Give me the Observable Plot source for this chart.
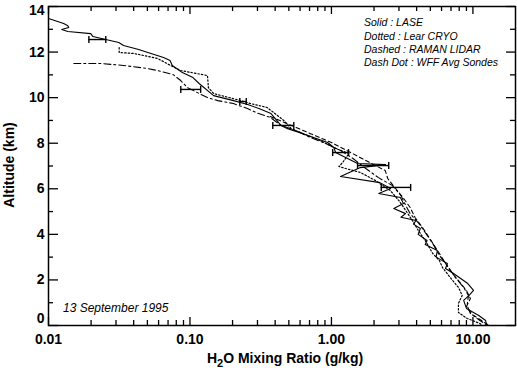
<!DOCTYPE html>
<html><head><meta charset="utf-8">
<script src="https://cdn.jsdelivr.net/npm/d3@7"></script>
<script src="https://cdn.jsdelivr.net/npm/@observablehq/plot@0.6"></script>
<style>body{margin:0;background:#fff}</style>
</head><body><div id="chart"></div>
<script>
// [H2O mixing ratio g/kg, altitude km]
const lase = [[0.0100,13.47],[0.0128,13.25],[0.0137,13.16],[0.0139,13.08],[0.0124,12.99],[0.0137,12.90],[0.0199,12.81],[0.0206,12.68],[0.0254,12.55],[0.0314,12.42],[0.0339,12.29],[0.0434,12.11],[0.0530,11.94],[0.0651,11.76],[0.0723,11.63],[0.0750,11.41],[0.0883,11.10],[0.105,10.88],[0.116,10.62],[0.147,10.09],[0.203,9.87],[0.256,9.70],[0.307,9.52],[0.374,9.30],[0.440,8.78],[0.49,8.64],[0.63,8.42],[0.94,8.03],[1.04,7.81],[1.07,7.59],[1.26,7.37],[1.53,7.11],[2.41,7.06],[1.60,6.93],[1.16,6.54],[2.20,6.27],[2.62,6.01],[2.16,5.79],[3.07,5.62],[3.23,5.35],[2.76,5.13],[3.34,4.91],[3.10,4.75],[3.96,4.61],[3.80,4.45],[4.25,4.26],[4.10,4.0],[4.74,3.73],[4.6,3.55],[5.6,3.29],[5.5,3.0],[6.6,2.72],[6.4,2.5],[7.3,2.28],[9.2,1.84],[10.1,1.54],[9.4,1.32],[8.6,1.10],[9.0,0.75],[11.0,0.44],[12.3,0.22],[12.5,0]];
const cryo = [[0.0316,12.2],[0.0316,11.98],[0.040,11.94],[0.059,11.72],[0.073,11.41],[0.086,11.19],[0.133,10.97],[0.135,10.44],[0.147,10.18],[0.228,9.87],[0.268,9.74],[0.35,9.57],[0.39,9.35],[0.46,9.0],[0.52,8.64],[0.63,8.42],[0.83,8.12],[1.07,7.77],[1.33,7.55],[1.20,7.15],[1.13,6.98],[1.26,6.89],[1.61,6.71],[2.05,6.36],[2.61,5.92],[3.0,5.48],[3.35,5.05],[3.73,4.61],[4.11,4.17],[4.6,3.73],[5.2,3.16],[5.8,2.85],[6.1,2.54],[6.9,2.11],[7.9,1.67],[8.4,1.32],[7.9,0.97],[7.9,0.57],[9.1,0.31],[11.2,0.09],[11.7,0]];
const raman = [[0.37,9.17],[0.52,8.78],[0.71,8.42],[1.0,8.03],[1.37,7.59],[1.75,7.24],[2.4,6.80],[2.5,6.45],[2.8,6.06],[3.2,5.62],[3.6,5.18],[3.9,4.74],[4.4,4.30],[4.9,3.86],[5.5,3.38],[6.1,2.94],[6.9,2.41],[7.9,1.97],[9.0,1.54],[9.6,1.18],[9.0,0.83],[9.9,0.48],[11.5,0.22],[13.0,0]];
const wff = [[0.0151,11.5],[0.0234,11.5],[0.034,11.41],[0.050,11.28],[0.059,11.19],[0.076,11.01],[0.086,10.75],[0.096,10.44],[0.113,10.22],[0.133,10.0],[0.157,9.87],[0.203,9.74],[0.255,9.52],[0.306,9.30],[0.37,9.13],[0.44,8.78],[0.56,8.56],[0.71,8.25],[0.91,7.99],[1.16,7.68],[1.42,7.33],[1.75,6.89],[2.15,6.49],[2.70,6.14],[3.1,5.70],[3.35,5.27],[3.6,4.91],[4.1,4.52],[4.6,4.08],[5.2,3.60],[5.8,3.07],[6.6,2.63],[7.5,2.11],[8.6,1.67],[9.3,1.32],[9.1,0.88],[9.6,0.53],[11.2,0.22],[12.7,0]];
// LASE error bars
const errAlt = [12.55, 10.36, 9.83, 8.78, 7.59, 7.02, 6.06];
const errLo  = [0.0193, 0.0861, 0.225, 0.385, 1.02, 1.53, 2.25];
const errHi  = [0.0254, 0.119, 0.250, 0.542, 1.32, 2.54, 3.63];
const xMajor = [0.01, 0.1, 1, 10];
const xMinor = [0.02,0.03,0.04,0.05,0.06,0.07,0.08,0.09,0.2,0.3,0.4,0.5,0.6,0.7,0.8,0.9,2,3,4,5,6,7,8,9];
const yMajor = [0,2,4,6,8,10,12,14];
const yMinor = [1,3,5,7,9,11,13];
const legendLines = ["Solid : LASE","Dotted : Lear CRYO","Dashed : RAMAN LIDAR","Dash Dot : WFF Avg Sondes"];
const dateLabel = "13 September 1995";

const errs = errAlt.map((a,i)=>({alt:a, lo:errLo[i], hi:errHi[i]}));
const caps = errs.flatMap(e=>[{x:e.lo,y:e.alt},{x:e.hi,y:e.alt}]);
const vbar = {draw(ctx, size){ const r = Math.sqrt(size/Math.PI); ctx.moveTo(0,-r); ctx.lineTo(0,r); }};
const X = d=>d[0], Y = d=>d[1];
const FW = 467, FH = 319;

const chart = Plot.plot({
  width: 517, height: 368,
  marginLeft: 48, marginRight: 2, marginTop: 6, marginBottom: 43,
  style: {fontFamily: "Liberation Sans, Arial, sans-serif", background: "white", color: "black"},
  x: {type: "log", domain: [0.01, 20]},
  y: {domain: [0, 14]},
  marks: [
    Plot.line(wff, {x: X, y: Y, stroke: "black", strokeWidth: 1.1, strokeDasharray: "7,3,2,3", clip: true}),
    Plot.line(raman, {x: X, y: Y, stroke: "black", strokeWidth: 1.1, strokeDasharray: "4,3", clip: true}),
    Plot.line(cryo, {x: X, y: Y, stroke: "black", strokeWidth: 1.2, strokeDasharray: "1.5,2", clip: true}),
    Plot.line(lase, {x: X, y: Y, stroke: "black", strokeWidth: 1.1, clip: true}),
    Plot.ruleY(errs, {y: "alt", x1: "lo", x2: "hi", stroke: "black", strokeWidth: 1.4}),
    Plot.dot(caps, {x: "x", y: "y", symbol: vbar, r: 3.5, stroke: "black", strokeWidth: 1.4}),
    Plot.tickX(xMajor, {x: d=>d, insetTop: FH-8, stroke: "black", strokeWidth: 1.3}),
    Plot.tickX(xMinor, {x: d=>d, insetTop: FH-5, stroke: "black", strokeWidth: 1.3}),
    Plot.tickX(xMajor, {x: d=>d, insetBottom: FH-8, stroke: "black", strokeWidth: 1.3}),
    Plot.tickX(xMinor, {x: d=>d, insetBottom: FH-5, stroke: "black", strokeWidth: 1.3}),
    Plot.tickY(yMajor, {y: d=>d, insetRight: FW-10, stroke: "black", strokeWidth: 1.3}),
    Plot.tickY(yMinor, {y: d=>d, insetRight: FW-5, stroke: "black", strokeWidth: 1.3}),
    Plot.tickY(yMajor, {y: d=>d, insetLeft: FW-9, stroke: "black", strokeWidth: 1.3}),
    Plot.tickY(yMinor, {y: d=>d, insetLeft: FW-5, stroke: "black", strokeWidth: 1.3}),
    Plot.frame({stroke: "black", strokeWidth: 1.5}),
    Plot.axisX({ticks: xMajor, tickSize: 0, tickPadding: 9, tickFormat: d3.format(".2f"), fontSize: 14, fontWeight: "bold", label: null}),
    Plot.axisY({ticks: [2,4,6,8,10,12], tickSize: 0, tickPadding: 4, fontSize: 14, fontWeight: "bold", label: null}),
    Plot.text([0], {y: d=>d, frameAnchor: "left", dx: -4, dy: -7, textAnchor: "end", text: d=>String(d), fontSize: 14, fontWeight: "bold"}),
    Plot.text([14], {y: d=>d, frameAnchor: "left", dx: -4, dy: 4, textAnchor: "end", text: d=>String(d), fontSize: 14, fontWeight: "bold"})
  ]
});

const svg = d3.select(chart);
svg.append("text").attr("transform","translate(14,165) rotate(-90)").attr("text-anchor","middle")
  .attr("font-size",14).attr("font-weight","bold").attr("fill","black").text("Altitude (km)");
const xl = svg.append("text").attr("x",285).attr("y",363).attr("text-anchor","middle")
  .attr("font-size",14).attr("font-weight","bold").attr("fill","black");
xl.append("tspan").text("H");
xl.append("tspan").attr("dy",4).attr("font-size",11).text("2");
xl.append("tspan").attr("dy",-4).text("O Mixing Ratio (g/kg)");
const lg = [26, 39.5, 53, 66.3];
legendLines.forEach((t,i)=>{
  svg.append("text").attr("x",364).attr("y",lg[i]).attr("text-anchor","start").attr("font-size",10.5).attr("font-style","italic")
    .attr("fill","black").text(t);
});
svg.append("text").attr("x",63).attr("y",312).attr("text-anchor","start").attr("font-size",12).attr("font-style","italic")
  .attr("fill","black").text(dateLabel);

document.getElementById("chart").appendChild(chart);
</script>
</body></html>
